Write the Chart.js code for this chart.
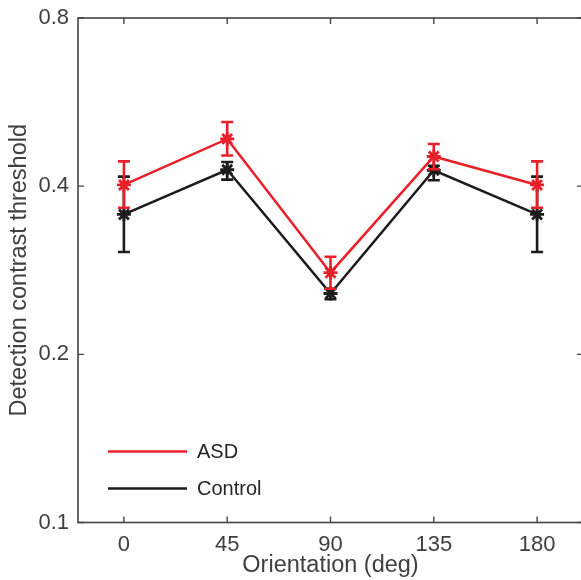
<!DOCTYPE html>
<html>
<head>
<meta charset="utf-8">
<script src="https://cdn.jsdelivr.net/npm/chart.js@4/dist/chart.umd.min.js"></script>
<style>
  html, body { margin: 0; padding: 0; background: #fff; overflow: hidden; }
  #wrap { width: 581px; height: 580px; overflow: hidden; position: relative; }
  #chart { position: absolute; left: 0; top: 0; }
</style>
</head>
<body>
<div id="wrap"><canvas id="chart" width="590" height="580"></canvas></div>
<script>
// orientation of the grating (deg)
const angles = [0, 45, 90, 135, 180];
const xTicks = [0, 45, 90, 135, 180];
const yTicks = [0.1, 0.2, 0.4, 0.8];

// ASD group: mean and error-bar ends
const asdMean = [0.402, 0.486, 0.280, 0.452, 0.402];
const asdLow  = [0.366, 0.454, 0.262, 0.429, 0.366];
const asdHigh = [0.443, 0.521, 0.299, 0.476, 0.443];

// Control group
const ctrlMean = [0.356, 0.428, 0.257, 0.427, 0.356];
const ctrlLow  = [0.305, 0.411, 0.251, 0.410, 0.305];
const ctrlHigh = [0.416, 0.442, 0.262, 0.435, 0.416];

const RED = '#e8202a';
const BLACK = '#1c1c1c';
const AXIS = '#454545';
const FONT = '"Liberation Sans", Arial, Helvetica, sans-serif';

function toPoints(xs, ys) {
  return xs.map((x, i) => ({ x: x, y: ys[i] }));
}

// error bars drawn right after each dataset so layering follows the lines
const errorBars = {
  id: 'errorBars',
  afterDatasetDraw(chart, args) {
    const ds = chart.data.datasets[args.index];
    if (!ds.errLow) return;
    const xs = chart.scales.x, ys = chart.scales.y;
    const ctx = chart.ctx;
    ctx.save();
    ctx.strokeStyle = ds.borderColor;
    ctx.lineWidth = 2.6;
    const cap = 6;
    ds.data.forEach((p, i) => {
      const px = xs.getPixelForValue(p.x);
      const lo = ys.getPixelForValue(ds.errLow[i]);
      const hi = ys.getPixelForValue(ds.errHigh[i]);
      ctx.beginPath();
      ctx.moveTo(px, lo); ctx.lineTo(px, hi);
      ctx.moveTo(px - cap, lo); ctx.lineTo(px + cap, lo);
      ctx.moveTo(px - cap, hi); ctx.lineTo(px + cap, hi);
      ctx.stroke();
    });
    ctx.restore();
  }
};

// MATLAB-style box with inward ticks
const axisBox = {
  id: 'axisBox',
  afterDraw(chart) {
    const { ctx, chartArea: a } = chart;
    const xs = chart.scales.x, ys = chart.scales.y;
    const tl = 6;
    ctx.save();
    ctx.strokeStyle = AXIS;
    ctx.lineWidth = 1.6;
    ctx.strokeRect(a.left, a.top, a.right - a.left, a.bottom - a.top);
    ctx.lineWidth = 1.4;
    ctx.beginPath();
    xTicks.forEach(v => {
      const px = xs.getPixelForValue(v);
      ctx.moveTo(px, a.bottom); ctx.lineTo(px, a.bottom - tl);
      ctx.moveTo(px, a.top); ctx.lineTo(px, a.top + tl);
    });
    yTicks.forEach(v => {
      const py = ys.getPixelForValue(v);
      ctx.moveTo(a.left, py); ctx.lineTo(a.left + tl, py);
      ctx.moveTo(a.right, py); ctx.lineTo(a.right - tl, py);
    });
    ctx.stroke();
    ctx.restore();
  }
};

// legend inside the axes, lower left
const insideLegend = {
  id: 'insideLegend',
  afterDraw(chart) {
    const ctx = chart.ctx;
    const rows = [451.5, 488.5];
    ctx.save();
    ctx.font = '20px ' + FONT;
    ctx.textBaseline = 'middle';
    ctx.textAlign = 'left';
    chart.data.datasets.forEach((ds, i) => {
      const y = rows[i];
      ctx.strokeStyle = ds.borderColor;
      ctx.lineWidth = 2.5;
      ctx.beginPath();
      ctx.moveTo(108, y); ctx.lineTo(187, y);
      ctx.stroke();
      ctx.fillStyle = '#262626';
      ctx.fillText(ds.label, 197, y + 1);
    });
    ctx.restore();
  }
};

new Chart(document.getElementById('chart'), {
  type: 'line',
  data: {
    datasets: [
      {
        label: 'ASD',
        data: toPoints(angles, asdMean),
        errLow: asdLow,
        errHigh: asdHigh,
        borderColor: RED,
        backgroundColor: RED,
        borderWidth: 2.5,
        pointStyle: 'star',
        pointRadius: 7,
        pointBorderWidth: 2.8,
        pointBorderColor: RED,
        tension: 0
      },
      {
        label: 'Control',
        data: toPoints(angles, ctrlMean),
        errLow: ctrlLow,
        errHigh: ctrlHigh,
        borderColor: BLACK,
        backgroundColor: BLACK,
        borderWidth: 2.5,
        pointStyle: 'star',
        pointRadius: 7,
        pointBorderWidth: 2.8,
        pointBorderColor: BLACK,
        tension: 0
      }
    ]
  },
  options: {
    responsive: false,
    animation: false,
    events: [],
    layout: { autoPadding: false, padding: { top: 18, right: 7, left: 0, bottom: 0 } },
    plugins: {
      legend: { display: false },
      tooltip: { enabled: false }
    },
    scales: {
      x: {
        type: 'linear',
        min: -20,
        max: 200,
        grid: { display: false, drawTicks: false },
        border: { display: false },
        afterBuildTicks: s => { s.ticks = xTicks.map(v => ({ value: v })); },
        afterFit: s => { s.height = 57.5; s.paddingLeft = 0; s.paddingRight = 0; },
        ticks: {
          padding: 9,
          color: '#404040',
          font: { family: FONT, size: 22 },
          callback: v => String(v)
        },
        title: {
          display: true,
          text: 'Orientation (deg)',
          color: '#404040',
          font: { family: FONT, size: 23.5, lineHeight: 1 },
          padding: { top: 0, bottom: 3 }
        }
      },
      y: {
        type: 'logarithmic',
        min: 0.1,
        max: 0.8,
        grid: { display: false, drawTicks: false },
        border: { display: false },
        afterBuildTicks: s => { s.ticks = yTicks.map(v => ({ value: v })); },
        afterFit: s => { s.width = 78; s.paddingTop = 0; s.paddingBottom = 0; },
        ticks: {
          padding: 9,
          color: '#404040',
          font: { family: FONT, size: 22 },
          callback: v => v.toFixed(1)
        },
        title: {
          display: true,
          text: 'Detection contrast threshold',
          color: '#404040',
          font: { family: FONT, size: 23.5, lineHeight: 1 },
          padding: { top: 8, bottom: 0 }
        }
      }
    }
  },
  plugins: [errorBars, axisBox, insideLegend]
});
</script>
</body>
</html>
